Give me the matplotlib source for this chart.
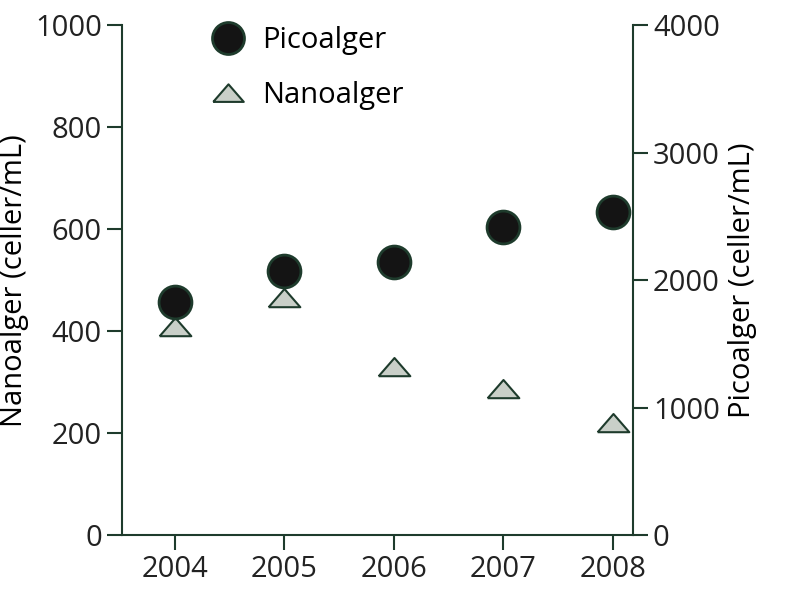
import matplotlib.pyplot as plt
from matplotlib.lines import Line2D

years = [2004, 2005, 2006, 2007, 2008]
pico = [1825, 2070, 2140, 2415, 2535]
nano = [408, 465, 330, 287, 220]

green = '#1e3b2c'
plt.rcParams['font.family'] = ['Open Sans', 'DejaVu Sans']
plt.rcParams['font.size'] = 21

# flat, wide triangle like the original
tri = [(-1, -0.55), (1, -0.55), (0, 0.6), (-1, -0.55)]

fig = plt.figure(figsize=(8.02, 6.13), dpi=100)
ax = fig.add_axes([0.152, 0.127, 0.637, 0.832])
ax2 = ax.twinx()

ax.scatter(years, nano, marker=tri, s=520, facecolor='#c9cfc8', edgecolor=green, linewidth=1.5, zorder=3)
ax2.scatter(years, pico, marker='o', s=560, facecolor='#141414', edgecolor=green, linewidth=2, zorder=3)

ax.set_xlim(2003.52, 2008.18)
ax.set_ylim(0, 1000)
ax2.set_ylim(0, 4000)
ax.set_xticks(years)
ax.set_yticks(range(0, 1001, 200))
ax2.set_yticks(range(0, 4001, 1000))
ax.set_ylabel('Nanoalger (celler/mL)', labelpad=4)
ax2.set_ylabel('Picoalger (celler/mL)', labelpad=6)

for a in (ax, ax2):
    for s in a.spines.values():
        s.set_visible(False)
    a.tick_params(colors=green, labelcolor='#222222', width=1.5, length=11, labelsize=21)
ax.spines['left'].set_visible(True)
ax.spines['bottom'].set_visible(True)
ax2.spines['right'].set_visible(True)
for s in (ax.spines['left'], ax.spines['bottom'], ax2.spines['right']):
    s.set_color(green)
    s.set_linewidth(1.5)

handles = [
    Line2D([], [], marker='o', ls='', markersize=23, markerfacecolor='#141414', markeredgecolor=green, markeredgewidth=2),
    Line2D([], [], marker=tri, ls='', markersize=22, markerfacecolor='#c9cfc8', markeredgecolor=green, markeredgewidth=1.5),
]
ax.legend(handles, ['Picoalger', 'Nanoalger'], loc='upper left', bbox_to_anchor=(0.1, 1.05),
          frameon=False, fontsize=21, handletextpad=0.15, labelspacing=0.9)

fig.savefig('out.png', dpi=100)
